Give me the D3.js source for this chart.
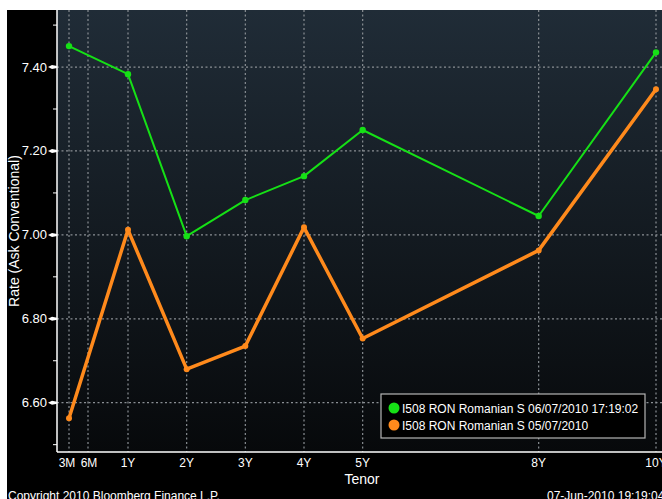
<!DOCTYPE html>
<html>
<head>
<meta charset="utf-8">
<script src="https://cdn.jsdelivr.net/npm/d3@7"></script>
<style>
  body { margin: 0; background: #fff; }
  svg text { font-family: "Liberation Sans", "DejaVu Sans", sans-serif; fill: #fff; }
</style>
</head>
<body>
<svg id="chart" width="662" height="499"></svg>
<script>
// tenors (label + years) and the two curves
const tenorLabels = ["3M", "6M", "1Y", "2Y", "3Y", "4Y", "5Y", "8Y", "10Y"];
const tenorYears = [0.25, 0.5, 1, 2, 3, 4, 5, 8, 10];
const pointTenors = [0.25, 1, 2, 3, 4, 5, 8, 10];
const greenValues = [7.45, 7.383, 6.997, 7.083, 7.14, 7.25, 7.045, 7.435];
const orangeValues = [6.563, 7.012, 6.68, 6.735, 7.018, 6.753, 6.963, 7.347];
const yMajor = [6.60, 6.80, 7.00, 7.20, 7.40];
const yMinor = [6.50, 6.70, 6.90, 7.10, 7.30, 7.50];
const legendLabels = ["I508 RON Romanian S 06/07/2010 17:19:02", "I508 RON Romanian S 05/07/2010"];

const svg = d3.select("#chart");
const plot = { left: 57, right: 662, top: 10, bottom: 452 };

// black panel
svg.append("rect").attr("x", 7).attr("y", 10).attr("width", 655).attr("height", 489).attr("fill", "#000");

// bloomberg squeezes the short end
let x = d3.scaleLinear().domain([0.25, 0.5, 1, 10]).range([69, 88, 128, 656]);
let y = d3.scaleLinear().domain([6.4825, 7.536]).range([plot.bottom, plot.top]);

let grad = svg.append("defs").append("linearGradient")
    .attr("id", "bg").attr("x1", 0).attr("y1", 0).attr("x2", 0).attr("y2", 1);
grad.append("stop").attr("offset", "0%").attr("stop-color", "#202c37");
grad.append("stop").attr("offset", "100%").attr("stop-color", "#07090b");

svg.append("rect")
    .attr("x", plot.left).attr("y", plot.top)
    .attr("width", plot.right - plot.left).attr("height", plot.bottom - plot.top)
    .attr("fill", "url(#bg)");

// grid
svg.selectAll(".vgrid").data(tenorYears).enter().append("line")
    .attr("x1", d => x(d)).attr("x2", d => x(d))
    .attr("y1", plot.top).attr("y2", plot.bottom)
    .attr("stroke", "#8a8f94").attr("stroke-width", 1.2).attr("stroke-dasharray", "2,2.5");
svg.selectAll(".hgrid").data(yMajor).enter().append("line")
    .attr("x1", plot.left).attr("x2", plot.right)
    .attr("y1", d => y(d)).attr("y2", d => y(d))
    .attr("stroke", "#8a8f94").attr("stroke-width", 1.2).attr("stroke-dasharray", "2,2.5");

// axes lines
svg.append("line").attr("x1", plot.left).attr("x2", plot.left).attr("y1", plot.top).attr("y2", plot.bottom)
    .attr("stroke", "#fff").attr("stroke-width", 1.5);
svg.append("line").attr("x1", plot.left).attr("x2", plot.right).attr("y1", plot.bottom).attr("y2", plot.bottom)
    .attr("stroke", "#fff").attr("stroke-width", 1.5);

// y ticks
svg.selectAll(".ymaj").data(yMajor).enter().append("path")
    .attr("d", d => "M48," + y(d) + "L52," + (y(d) - 2) + "L57," + (y(d) - 1) + "L57," + (y(d) + 1) + "L52," + (y(d) + 2) + "Z")
    .attr("fill", "#fff");
svg.selectAll(".ymin").data(yMinor).enter().append("line")
    .attr("x1", 53).attr("x2", 57).attr("y1", d => y(d)).attr("y2", d => y(d))
    .attr("stroke", "#fff").attr("stroke-width", 1);
svg.selectAll(".ylab").data(yMajor).enter().append("text")
    .attr("x", 47).attr("y", d => y(d) + 4.5)
    .attr("text-anchor", "end").style("font-size", "13px")
    .text(d => d.toFixed(2));

// x labels
svg.selectAll(".xlab").data(tenorYears).enter().append("text")
    .attr("x", (d, i) => x(d) + (i == 0 ? -2 : i == 1 ? 1 : 0)).attr("y", 467)
    .attr("text-anchor", "middle").style("font-size", "12px")
    .text((d, i) => tenorLabels[i]);

svg.append("text").attr("x", 362).attr("y", 484).attr("text-anchor", "middle")
    .style("font-size", "14px").text("Tenor");
svg.append("text").attr("transform", "translate(19,231) rotate(-90)").attr("text-anchor", "middle")
    .style("font-size", "14px").text("Rate (Ask Conventional)");
svg.append("text").attr("x", 8).attr("y", 500).style("font-size", "12px").text("Copyright 2010 Bloomberg Finance L.P.");
svg.append("text").attr("x", 547).attr("y", 500).style("font-size", "12px").text("07-Jun-2010 19:19:04");

// series
let series = [
    { values: orangeValues, color: "#ff8a1c", width: 3.5, r: 3 },
    { values: greenValues, color: "#16e016", width: 2, r: 3.2 }
];
let line = d3.line().x(d => x(d[0])).y(d => y(d[1]));
series.forEach(function (s) {
    let pts = pointTenors.map((t, i) => [t, s.values[i]]);
    svg.append("path").datum(pts).attr("d", line)
        .attr("fill", "none").attr("stroke", s.color).attr("stroke-width", s.width)
        .attr("stroke-linejoin", "round");
    svg.selectAll(null).data(pts).enter().append("circle")
        .attr("cx", d => x(d[0])).attr("cy", d => y(d[1])).attr("r", s.r)
        .attr("fill", s.color);
});

// legend
let lg = svg.append("g").attr("transform", "translate(381,394)");
lg.append("rect").attr("width", 264).attr("height", 44).attr("fill", "#000")
    .attr("stroke", "#b5b5b5").attr("stroke-width", 1.2);
let legendColors = ["#16e016", "#ff8a1c"];
for (let i = 0; i < legendLabels.length; i++) {
    lg.append("circle").attr("cx", 13).attr("cy", 14 + i * 17).attr("r", 5.5).attr("fill", legendColors[i]);
    lg.append("text").attr("x", 21).attr("y", 18.5 + i * 17).style("font-size", "12px").text(legendLabels[i]);
}
</script>
</body>
</html>
